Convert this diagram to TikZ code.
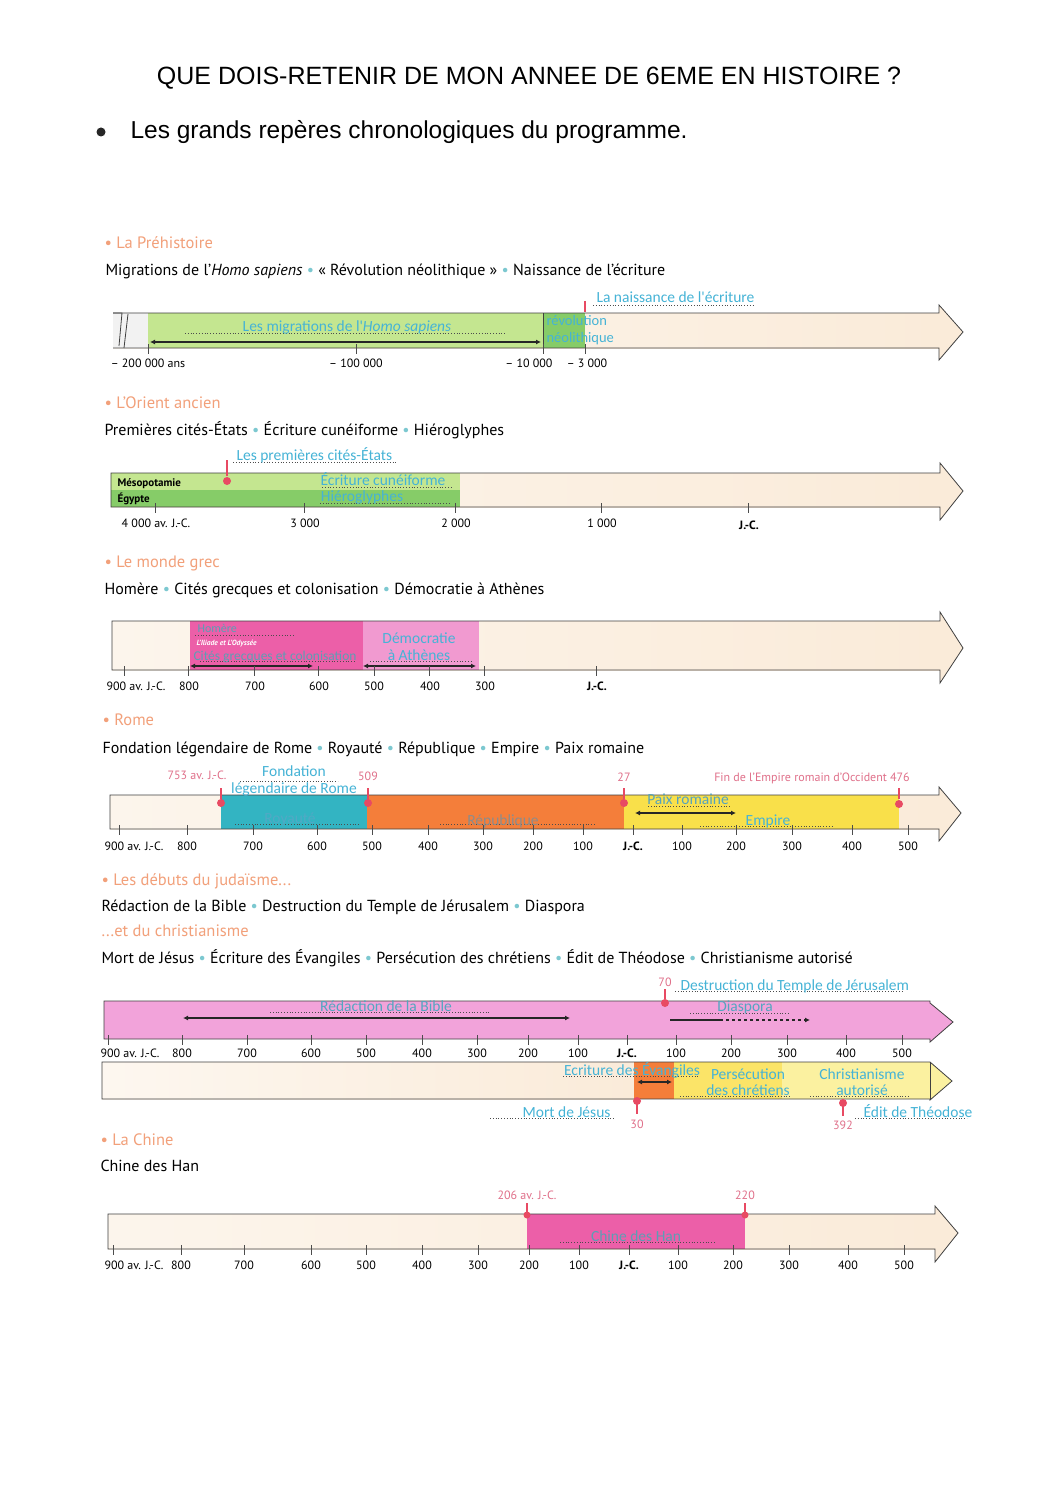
\documentclass[tikz,border=0pt]{standalone}
\usepackage{fontspec}
\setmainfont{PT Sans}
\newfontfamily\arialf{Liberation Sans}
\newfontfamily\handf{Carlito}
\usetikzlibrary{arrows.meta}
\definecolor{salmon}{HTML}{F2A07A}
\definecolor{bul}{HTML}{7CC8D0}
\definecolor{cyanw}{HTML}{45B3D6}
\definecolor{creme}{HTML}{FAEBD9}
\definecolor{lgreen}{HTML}{C4E690}
\definecolor{dgreen}{HTML}{86CC68}
\definecolor{hpink}{HTML}{EC5FA8}
\definecolor{lpink}{HTML}{F19AD0}
\definecolor{tealc}{HTML}{33B4C2}
\definecolor{orng}{HTML}{F47E3A}
\definecolor{yel}{HTML}{F9E04A}
\definecolor{mpink}{HTML}{F2A3DA}
\definecolor{redm}{HTML}{E84A63}
\definecolor{redt}{HTML}{E0708A}
\definecolor{lyel}{HTML}{FBF1A0}
\definecolor{myel}{HTML}{FBE468}
\newcommand\cb{\textcolor{bul}{\textbullet}}
\tikzset{
  sect/.style={anchor=base west, text=salmon, font=\fontsize{16.5}{18}\selectfont},
  body/.style={anchor=base west, font=\fontsize{16}{18}\selectfont},
  ticklbl/.style={anchor=base, font=\fontsize{12}{13}\selectfont},
  boldlbl/.style={anchor=base, font=\bfseries\fontsize{12}{13}\selectfont},
  hand/.style={anchor=base, text=cyanw, font=\handf\fontsize{15.5}{16}\selectfont},
  handw/.style={anchor=base west, text=cyanw, font=\handf\fontsize{15.5}{16}\selectfont},
  redlbl/.style={anchor=base, text=redt, font=\fontsize{12}{13}\selectfont},
  dots/.style={dotted, line width=0.8pt, black!70},
  barline/.style={line width=0.8pt, black!75},
  darrow/.style={line width=1.5pt, black!85, {Latex[length=5pt,width=5pt]}-{Latex[length=5pt,width=5pt]}},
  tickl/.style={line width=0.6pt, black!70},
  redmark/.style={line width=2pt, redm},
}
\begin{document}
\begin{tikzpicture}[x=1pt,y=-1pt]
\useasboundingbox[fill=white] (0,0) rectangle (1058,1495);

% ---------- Title ----------
\node[anchor=base, font=\arialf\fontsize{25}{28}\selectfont] (title) at (529,85) {QUE DOIS-RETENIR DE MON ANNEE DE 6EME EN HISTOIRE ?};
\fill[black!85] (101,132) circle (4.5pt);
\node[anchor=base west, font=\arialf\fontsize{24.5}{27}\selectfont] (subtitle) at (127,139) {Les grands repères chronologiques du programme.};

% ---------- 1. Préhistoire ----------
\node[sect] (s1) at (101,249) {\textbullet\ La Préhistoire};
\node[body] (b1) at (102,276) {Migrations de l'\textit{Homo sapiens} \cb\ « Révolution néolithique » \cb\ Naissance de l'écriture};
\fill[left color=creme!40!white, right color=creme] (113,313) rectangle (939,348);
\fill[creme] (939,305) -- (963,332) -- (939,360) -- cycle;
\fill[black!5] (113,313) rectangle (148,348);
\fill[lgreen] (148,313) rectangle (543,348);
\fill[dgreen] (543,313) rectangle (585,348);
\draw[barline] (113,313) -- (939,313) -- (939,305) -- (963,332) -- (939,360) -- (939,348) -- (113,348);
\draw[barline] (113,313) -- (122,313) -- (119,346);
\draw[barline] (128,314) -- (124,348);
\draw[barline] (543,313) -- (543,348);
\coordinate (a1l) at (150,342); \coordinate (a1r) at (541,342);
\draw[darrow] (a1l) -- (a1r);
\foreach \x in {148,356,543,585} \draw[tickl] (\x,344) -- (\x,354);
\node[ticklbl] (t1a) at (148,367) {– 200 000 ans};
\node[ticklbl] (t1b) at (356,367) {– 100 000};
\node[ticklbl] (t1c) at (529,367) {– 10 000};
\node[ticklbl] (t1d) at (587,367) {– 3 000};
\draw[dots] (185,333) -- (505,333);
\node[hand] (h1a) at (347,331) {Les migrations de l'\textit{Homo sapiens}};
\node[handw, font=\handf\fontsize{14.5}{15}\selectfont] (h1b) at (543,325) {révolution};
\node[handw, font=\handf\fontsize{14.5}{15}\selectfont] (h1c) at (543,342) {néolithique};
\draw[redmark] (585,301) -- (585,312);
\draw[dots] (593,305) -- (753,305);
\node[handw] (h1d) at (593,303) {La naissance de l'écriture};

% ---------- 2. Orient ancien ----------
\node[sect] (s2) at (101,408) {\textbullet\ L'Orient ancien};
\node[body] (b2) at (101,435) {Premières cités-États \cb\ Écriture cunéiforme \cb\ Hiéroglyphes};
\fill[left color=creme!50!white, right color=creme] (111,473) rectangle (940,507);
\fill[creme] (940,463) -- (963,491) -- (940,520) -- cycle;
\fill[lgreen] (111,473) rectangle (460,490);
\fill[dgreen] (111,490) rectangle (460,507);
\draw[barline] (111,473) -- (940,473) -- (940,463) -- (963,491) -- (940,520) -- (940,507) -- (111,507) -- cycle;
\node[anchor=base west, font=\bfseries\fontsize{11}{12}\selectfont] (meso) at (114,486) {Mésopotamie};
\node[anchor=base west, font=\bfseries\fontsize{11}{12}\selectfont] (egy) at (114,502) {Égypte};
\foreach \x in {155,304,455,601,748} \draw[tickl] (\x,503) -- (\x,513);
\node[ticklbl] (t2a) at (156,527) {4 000 av. J.-C.};
\node[ticklbl] (t2b) at (305,527) {3 000};
\node[ticklbl] (t2c) at (456,527) {2 000};
\node[ticklbl] (t2d) at (602,527) {1 000};
\node[boldlbl] (t2e) at (749,529) {J.-C.};
\draw[redmark] (227,460) -- (227,476);
\fill[redm] (227,481) circle (4pt);
\draw[dots] (233,462) -- (398,462);
\node[handw] (h2a) at (233,460) {Les premières cités-États};
\draw[dots] (322,487) -- (452,487);
\node[hand] (h2b) at (383,485) {Écriture cunéiforme};
\draw[dots] (320,503) -- (450,503);
\node[hand] (h2c) at (362,501) {Hiéroglyphes};

% ---------- 3. Monde grec ----------
\node[sect] (s3) at (101,567) {\textbullet\ Le monde grec};
\node[body] (b3) at (101,594) {Homère \cb\ Cités grecques et colonisation \cb\ Démocratie à Athènes};
\fill[left color=creme!50!white, right color=creme] (112,621) rectangle (940,670);
\fill[creme] (940,612) -- (963,648) -- (940,683) -- cycle;
\fill[hpink] (190,621) rectangle (363,670);
\fill[lpink] (363,621) rectangle (479,670);
\draw[barline] (112,621) -- (940,621) -- (940,612) -- (963,648) -- (940,683) -- (940,670) -- (112,670) -- cycle;
\draw[dots] (195,635) -- (295,635);
\node[anchor=base west, text=cyanw!60!gray, font=\handf\fontsize{12}{13}\selectfont] (h3a) at (194,632) {Homère};
\node[anchor=base west, text=white, font=\bfseries\itshape\fontsize{7.5}{8}\selectfont] (iliade) at (193,645) {L'Iliade et L'Odyssée};
\draw[dots] (200,661) -- (355,661);
\node[anchor=base, text=cyanw!60!gray, font=\handf\fontsize{13.5}{14}\selectfont] (h3b) at (275,660) {Cités grecques et colonisation};
\coordinate (a3l) at (190,666); \coordinate (a3r) at (313,666);
\draw[darrow] (a3l) -- (a3r);
\node[hand] (h3c) at (419,643) {Démocratie};
\node[hand] (h3d) at (419,660) {à Athènes};
\draw[dots] (370,661) -- (472,661);
\coordinate (a3m) at (363,666); \coordinate (a3n) at (476,666);
\draw[darrow] (a3m) -- (a3n);
\foreach \x in {124,188,254,318,374,429,484,596} \draw[tickl] (\x,666) -- (\x,676);
\node[ticklbl] (t3a) at (136,690) {900 av. J.-C.};
\node[ticklbl] (t3b) at (189,690) {800};
\node[ticklbl] (t3c) at (255,690) {700};
\node[ticklbl] (t3d) at (319,690) {600};
\node[ticklbl] (t3e) at (374,690) {500};
\node[ticklbl] (t3f) at (430,690) {400};
\node[ticklbl] (t3g) at (485,690) {300};
\node[boldlbl] (t3h) at (597,690) {J.-C.};

% ---------- 4. Rome ----------
\node[sect] (s4) at (99,725) {\textbullet\ Rome};
\node[body] (b4) at (99,753) {Fondation légendaire de Rome \cb\ Royauté \cb\ République \cb\ Empire \cb\ Paix romaine};
\fill[left color=creme!50!white, right color=creme] (110,795) rectangle (939,829);
\fill[creme] (939,787) -- (961,813) -- (939,841) -- cycle;
\fill[tealc] (221,795) rectangle (367,829);
\fill[orng] (367,795) rectangle (624,829);
\fill[yel] (624,795) rectangle (899,829);
\draw[barline] (110,795) -- (939,795) -- (939,787) -- (961,813) -- (939,841) -- (939,829) -- (110,829) -- cycle;
\node[redlbl] (r4a) at (197,779) {753 av. J.-C.};
\draw[redmark] (221,788) -- (221,799);
\fill[redm] (221,803) circle (4pt);
\node[redlbl] (r4b) at (368,780) {509};
\draw[redmark] (368,788) -- (368,799);
\fill[redm] (368,803) circle (4pt);
\node[redlbl] (r4c) at (624,781) {27};
\draw[redmark] (624,788) -- (624,799);
\fill[redm] (624,803) circle (4pt);
\node[redlbl] (r4d) at (812,781) {Fin de l'Empire romain d'Occident 476};
\draw[redmark] (899,788) -- (899,799);
\fill[redm] (899,804) circle (4pt);
\node[hand] (h4a) at (294,776) {Fondation};
\draw[dots] (240,781) -- (338,781);
\node[hand] (h4b) at (294,793) {légendaire de Rome};
\draw[dots] (235,824) -- (360,824);
\node[hand, text=cyanw!80!gray] (h4c) at (290,823) {Royauté};
\draw[dots] (440,824) -- (595,824);
\node[hand, text=black!45] (h4d) at (503,825) {République};
\draw[dots] (648,806) -- (730,806);
\node[hand, text=cyanw!70!gray] (h4e) at (688,804) {Paix romaine};
\coordinate (a4l) at (635,813); \coordinate (a4r) at (736,813);
\draw[darrow] (a4l) -- (a4r);
\draw[dots] (700,826) -- (832,826);
\node[hand] (h4f) at (768,825) {Empire};
\foreach \x in {119,187,253,317,372,428,483,533,583,633,682,736,792,852,908} \draw[tickl] (\x,825) -- (\x,835);
\node[ticklbl] (t4a) at (134,850) {900 av. J.-C.};
\node[ticklbl] (t4b) at (187,850) {800};
\node[ticklbl] (t4c) at (253,850) {700};
\node[ticklbl] (t4d) at (317,850) {600};
\node[ticklbl] (t4e) at (372,850) {500};
\node[ticklbl] (t4f) at (428,850) {400};
\node[ticklbl] (t4g) at (483,850) {300};
\node[ticklbl] (t4h) at (533,850) {200};
\node[ticklbl] (t4i) at (583,850) {100};
\node[boldlbl] (t4j) at (633,850) {J.-C.};
\node[ticklbl] (t4k) at (682,850) {100};
\node[ticklbl] (t4l) at (736,850) {200};
\node[ticklbl] (t4m) at (792,850) {300};
\node[ticklbl] (t4n) at (852,850) {400};
\node[ticklbl] (t4o) at (908,850) {500};

% ---------- 5. Judaïsme / christianisme ----------
\node[sect] (s5) at (98,885) {\textbullet\ Les débuts du judaïsme...};
\node[body] (b5) at (98,911) {Rédaction de la Bible \cb\ Destruction du Temple de Jérusalem \cb\ Diaspora};
\node[sect] (s5b) at (98,936) {...et du christianisme};
\node[body] (b5b) at (98,963) {Mort de Jésus \cb\ Écriture des Évangiles \cb\ Persécution des chrétiens \cb\ Édit de Théodose \cb\ Christianisme autorisé};
% upper bar
\fill[mpink] (104,1001) -- (930,1001) -- (930,1003) -- (953,1022) -- (930,1042) -- (930,1039) -- (104,1039) -- cycle;
\draw[barline] (104,1001) -- (930,1001) -- (930,1003) -- (953,1022) -- (930,1042) -- (930,1039) -- (104,1039) -- cycle;
\draw[dots] (270,1012) -- (490,1012);
\node[hand, text=cyanw!75!gray] (h5a) at (386,1011) {Rédaction de la Bible};
\coordinate (a5l) at (183,1018); \coordinate (a5r) at (570,1018);
\draw[darrow] (a5l) -- (a5r);
\node[redlbl] (r5a) at (665,986) {70};
\draw[redmark] (665,989) -- (665,999);
\fill[redm] (665,1003) circle (4pt);
\draw[dots] (675,991) -- (903,991);
\node[handw] (h5b) at (677,990) {Destruction du Temple de Jérusalem};
\draw[dots] (690,1013) -- (790,1013);
\node[hand, text=cyanw!75!gray] (h5c) at (745,1011) {Diaspora};
\coordinate (a5m) at (670,1020); \coordinate (a5x) at (720,1020); \coordinate (a5n) at (810,1020);
\draw[line width=1.5pt, black!85] (a5m) -- (a5x);
\draw[line width=1.5pt, black!85, dashed, -{Latex[length=5pt,width=5pt]}] (a5x) -- (a5n);
\foreach \x in {108,182,247,311,366,422,477,528,578,627,676,731,787,846,902} \draw[tickl] (\x,1035) -- (\x,1045);
\node[ticklbl] (t5a) at (130,1057) {900 av. J.-C.};
\node[ticklbl] (t5b) at (182,1057) {800};
\node[ticklbl] (t5c) at (247,1057) {700};
\node[ticklbl] (t5d) at (311,1057) {600};
\node[ticklbl] (t5e) at (366,1057) {500};
\node[ticklbl] (t5f) at (422,1057) {400};
\node[ticklbl] (t5g) at (477,1057) {300};
\node[ticklbl] (t5h) at (528,1057) {200};
\node[ticklbl] (t5i) at (578,1057) {100};
\node[boldlbl] (t5j) at (627,1057) {J.-C.};
\node[ticklbl] (t5k) at (676,1057) {100};
\node[ticklbl] (t5l) at (731,1057) {200};
\node[ticklbl] (t5m) at (787,1057) {300};
\node[ticklbl] (t5n) at (846,1057) {400};
\node[ticklbl] (t5o) at (902,1057) {500};
% lower bar
\fill[left color=creme!40!white, right color=creme] (102,1062) rectangle (634,1099);
\fill[orng] (634,1062) rectangle (674,1099);
\fill[myel] (674,1062) rectangle (782,1099);
\fill[lyel] (782,1062) -- (930,1062) -- (952,1081) -- (930,1100) -- (930,1099) -- (782,1099) -- cycle;
\draw[barline] (102,1062) -- (930,1062) -- (952,1081) -- (930,1100) -- (930,1099) -- (102,1099) -- cycle;
\draw[barline] (930,1062) -- (930,1099);
\draw[dots] (563,1076) -- (700,1076);
\node[hand] (h5d) at (632,1075) {Ecriture des Évangiles};
\coordinate (a5p) at (637,1082); \coordinate (a5q) at (672,1082);
\draw[darrow] (a5p) -- (a5q);
\node[hand] (h5e) at (748,1079) {Persécution};
\node[hand] (h5f) at (748,1095) {des chrétiens};
\draw[dots] (680,1096) -- (790,1096);
\node[hand] (h5g) at (862,1079) {Christianisme};
\node[hand] (h5h) at (862,1095) {autorisé};
\draw[dots] (810,1096) -- (910,1096);
\fill[redm] (637,1101) circle (4pt);
\draw[redmark] (637,1104) -- (637,1114);
\node[redlbl] (r5b) at (637,1128) {30};
\fill[redm] (843,1103) circle (4pt);
\draw[redmark] (843,1106) -- (843,1116);
\node[redlbl] (r5c) at (843,1129) {392};
\draw[dots] (490,1118) -- (614,1118);
\node[anchor=base east, text=cyanw, font=\handf\fontsize{15.5}{16}\selectfont] (h5i) at (614,1117) {Mort de Jésus};
\draw[dots] (855,1118) -- (967,1118);
\node[handw] (h5j) at (860,1117) {Édit de Théodose};

% ---------- 6. Chine ----------
\node[sect] (s6) at (97,1145) {\textbullet\ La Chine};
\node[body] (b6) at (97,1171) {Chine des Han};
\fill[left color=creme!50!white, right color=creme] (108,1214) rectangle (935,1249);
\fill[creme] (935,1206) -- (958,1233) -- (935,1262) -- cycle;
\fill[hpink] (527,1214) rectangle (745,1249);
\draw[barline] (108,1214) -- (935,1214) -- (935,1206) -- (958,1233) -- (935,1262) -- (935,1249) -- (108,1249) -- cycle;
\node[redlbl] (r6a) at (527,1199) {206 av. J.-C.};
\draw[line width=1.2pt, redm] (527,1203) -- (527,1212);
\fill[redm] (527,1215) circle (3.5pt);
\node[redlbl] (r6b) at (745,1199) {220};
\draw[line width=1.2pt, redm] (745,1203) -- (745,1212);
\fill[redm] (745,1215) circle (3.5pt);
\draw[dots] (560,1242) -- (715,1242);
\node[hand, text=cyanw!60!gray] (h6a) at (636,1241) {Chine des Han};
\foreach \x in {113,181,244,311,366,422,478,529,579,629,678,733,789,848,904} \draw[tickl] (\x,1245) -- (\x,1255);
\node[ticklbl] (t6a) at (134,1269) {900 av. J.-C.};
\node[ticklbl] (t6b) at (181,1269) {800};
\node[ticklbl] (t6c) at (244,1269) {700};
\node[ticklbl] (t6d) at (311,1269) {600};
\node[ticklbl] (t6e) at (366,1269) {500};
\node[ticklbl] (t6f) at (422,1269) {400};
\node[ticklbl] (t6g) at (478,1269) {300};
\node[ticklbl] (t6h) at (529,1269) {200};
\node[ticklbl] (t6i) at (579,1269) {100};
\node[boldlbl] (t6j) at (629,1269) {J.-C.};
\node[ticklbl] (t6k) at (678,1269) {100};
\node[ticklbl] (t6l) at (733,1269) {200};
\node[ticklbl] (t6m) at (789,1269) {300};
\node[ticklbl] (t6n) at (848,1269) {400};
\node[ticklbl] (t6o) at (904,1269) {500};
\end{tikzpicture}
\end{document}
